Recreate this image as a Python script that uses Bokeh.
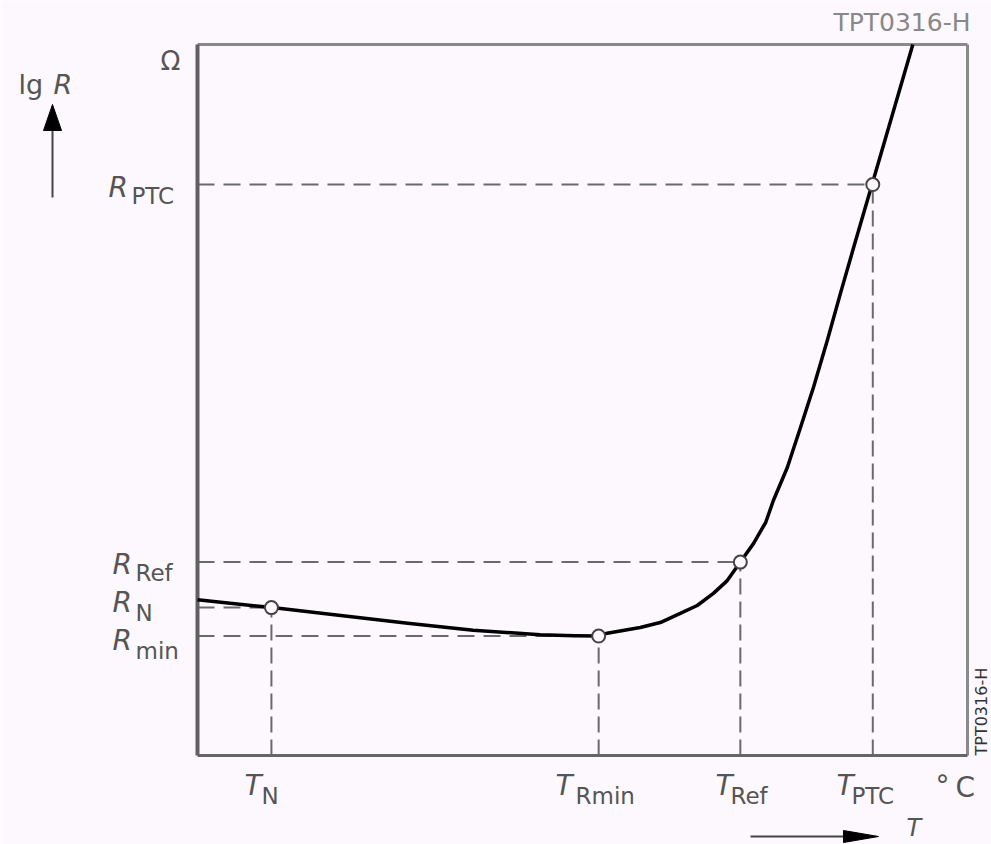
from bokeh.plotting import figure
from bokeh.models import Range1d
from bokeh.core.properties import value
from bokeh.embed import file_html
from bokeh.resources import INLINE

# ---- data (normalised: T and lg R on 0..100 scales of the frame) ----
curve_t = [0.0, 9.7, 18.6, 27.3, 35.8, 44.5, 49.0, 52.1, 53.2, 57.5, 60.1,
           62.7, 64.9, 67.0, 68.8, 70.5, 72.2, 73.8, 74.8, 76.6, 78.3, 80.0,
           81.8, 83.5, 85.2, 87.6, 90.1, 92.9]
curve_lgR = [21.9, 20.8, 19.7, 18.6, 17.6, 17.0, 16.85, 16.8, 17.2, 18.0, 18.7,
             20.0, 21.1, 22.8, 24.6, 27.2, 29.8, 32.8, 35.9, 40.5, 46.1, 51.8,
             58.4, 65.0, 71.4, 80.3, 89.6, 100.0]

point_names = ["N", "Rmin", "Ref", "PTC"]
point_t = [9.6, 52.1, 70.5, 87.7]
point_lgR = [20.8, 16.8, 27.2, 80.3]

BG = "#fdf8fd"
FONT = "DejaVu Sans"
GREY = "#555555"

W, H = 991, 844

# picture pixel -> data units (frame box spans 0..100 on both axes)
def px(xp):
    return (xp - 197) / 7.70

def py(yp):
    return (755 - yp) / 7.11

p = figure(width=W, height=H, output_backend="svg", toolbar_location=None,
           x_range=Range1d(px(0), px(W)), y_range=Range1d(py(H), py(0)),
           min_border=0)
p.axis.visible = False
p.grid.visible = False
p.background_fill_color = BG
p.border_fill_color = BG
p.outline_line_color = None

# dashed helper lines
n = len(point_t)
p.segment(x0=[0] * n, y0=point_lgR, x1=point_t, y1=point_lgR,
          line_color="#6a6a6a", line_width=2, line_dash="17 9")
p.segment(x0=point_t, y0=[0] * n, x1=point_t, y1=point_lgR,
          line_color="#6a6a6a", line_width=2, line_dash="16 7")

# frame box
p.segment(x0=[0, 100], y0=[100, 100], x1=[100, 100], y1=[100, 0],
          line_color="#8a8a8a", line_width=3)
p.segment(x0=[0], y0=[0], x1=[100], y1=[0], line_color="#666666", line_width=3)
p.segment(x0=[0], y0=[0], x1=[0], y1=[100], line_color="#606060", line_width=4)

# curve
p.line(curve_t, curve_lgR, line_color="black", line_width=3.5,
       line_join="round")

# marker circles
p.scatter(point_t, point_lgR, size=13, fill_color=BG, line_color="#444444",
          line_width=2)

SHIFT = 8  # rendered alphabetic baselines sit ~8px low; compensate

def lab(text, xp, yp, size, italic=False, align="left", color=GREY,
        angle=0.0, baseline="alphabetic"):
    if baseline == "alphabetic":
        yp = yp - SHIFT
    p.text(x=[px(xp)], y=[py(yp)], text=[text], text_font=value(FONT),
           text_font_size=value(f"{size}px"),
           text_font_style="italic" if italic else "normal",
           text_align=align, text_baseline=baseline,
           text_color=color, angle=angle)

# y-axis title and unit
lab("lg", 18, 92, 27)
lab("R", 53, 92, 27, italic=True)
lab("Ω", 170, 68, 26, align="center")

# y labels
lab("R", 108, 195, 28, italic=True)
lab("PTC", 131, 203, 23)
lab("R", 112, 572, 28, italic=True)
lab("Ref", 135, 580, 23)
lab("R", 112, 610, 28, italic=True)
lab("N", 135, 620, 23)
lab("R", 112, 648, 28, italic=True)
lab("min", 135, 658, 23)

# x labels
lab("T", 244, 793, 28, italic=True)
lab("N", 261, 803, 23)
lab("T", 555, 793, 28, italic=True)
lab("Rmin", 575, 803, 23)
lab("T", 715, 793, 28, italic=True)
lab("Ref", 730, 803, 23)
lab("T", 836, 793, 28, italic=True)
lab("PTC", 851, 803, 23)
lab("°", 935, 793, 28)
lab("C", 955, 795, 28)

# figure codes
lab("TPT0316-H", 970, 30, 25, align="right", color="#888888")
lab("TPT0316-H", 981, 755, 16, color="#333333", angle=1.5708,
    baseline="middle")

# arrows (shaft + filled head)
p.segment(x0=[px(52)], y0=[py(197)], x1=[px(52)], y1=[py(120)],
          line_color="#444444", line_width=2)
p.patch(x=[px(43), px(61), px(52)], y=[py(130), py(130), py(104)],
        fill_color="black", line_color="black")
p.segment(x0=[px(750)], y0=[py(836)], x1=[px(850)], y1=[py(836)],
          line_color="#444444", line_width=2)
p.patch(x=[px(843), px(843), px(878)], y=[py(830), py(842), py(836)],
        fill_color="black", line_color="black")
lab("T", 906, 835, 24, italic=True)

open("out.html", "w").write(file_html(p, INLINE))
